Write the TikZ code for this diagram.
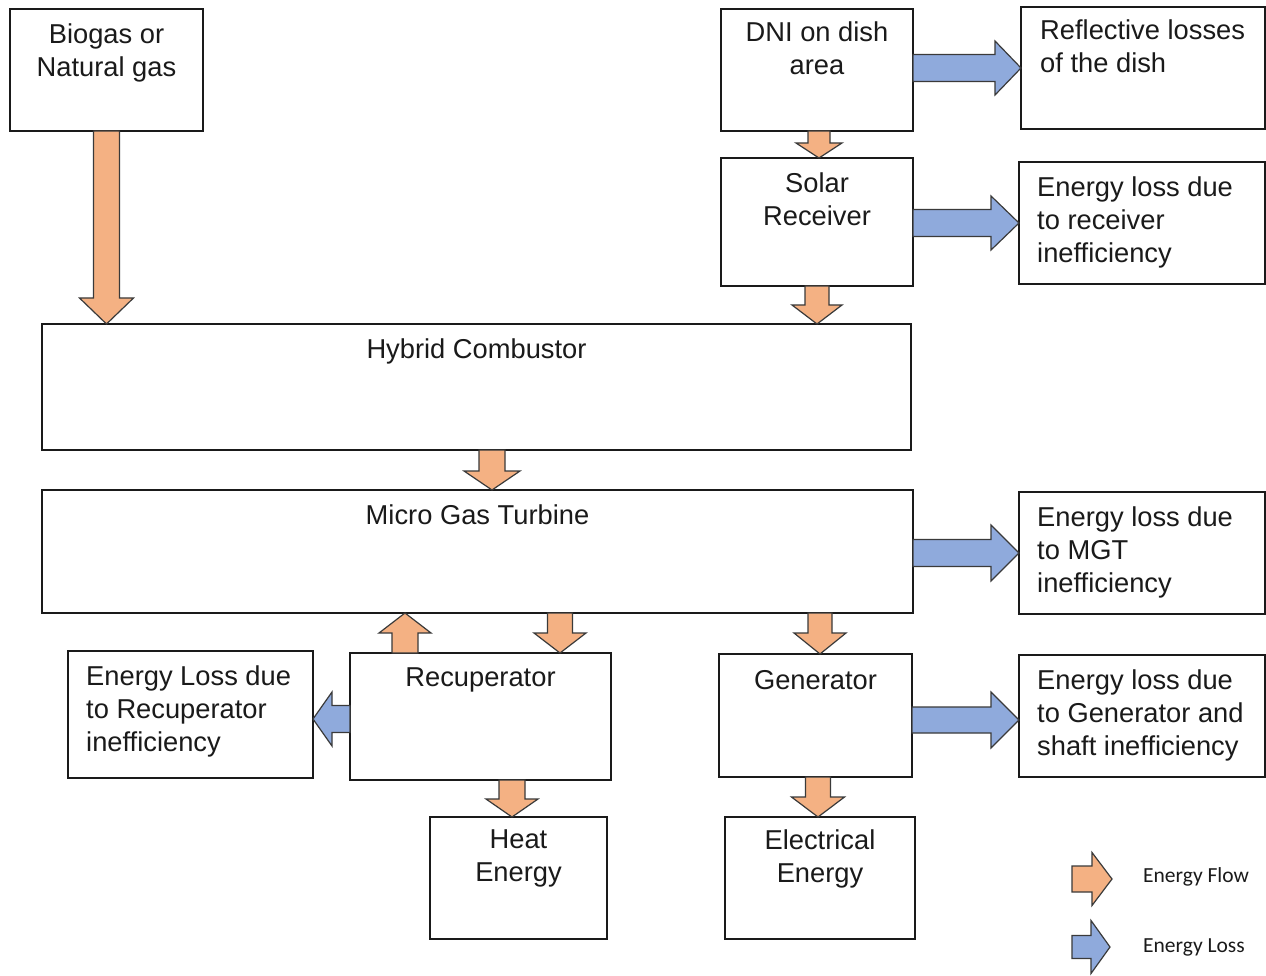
\documentclass[tikz,border=0pt]{standalone}
\usepackage{fontspec}
\setmainfont{Liberation Sans}
\newfontfamily\legfont{Carlito}
\usetikzlibrary{calc}
\definecolor{orf}{HTML}{F4B183}
\definecolor{blf}{HTML}{8FAADC}
\definecolor{arline}{HTML}{3A3A3A}
\definecolor{txt}{HTML}{1A1A1A}
\newcommand\boxnode[5]{%
  \pgfmathsetmacro\bw{#4-#2}\pgfmathsetmacro\bh{#5-#3}%
  \node[box, minimum width=\bw pt, minimum height=\bh pt] (#1) at ({(#2+#4)/2},{(#3+#5)/2}) {};}
% style, start, end, shaft half width, head half width, head length
\newcommand\blockarrow[6]{%
  \coordinate (ba-s) at (#2);
  \coordinate (ba-e) at (#3);
  \coordinate (ba-h) at ($(ba-e)!#6!(ba-s)$);
  \draw[#1] ($(ba-s)!#4!90:(ba-e)$) -- ($(ba-h)!#4!90:(ba-e)$) -- ($(ba-h)!#5!90:(ba-e)$)
    -- (ba-e) -- ($(ba-h)!#5!-90:(ba-e)$) -- ($(ba-h)!#4!-90:(ba-e)$)
    -- ($(ba-s)!#4!-90:(ba-e)$) -- cycle;}
\begin{document}
\begin{tikzpicture}[x=1pt,y=-1pt,
  box/.style={draw=txt, line width=1.5pt, fill=white, inner sep=0pt, outer sep=0pt},
  ctext/.style={inner sep=0pt, align=center, text=txt, font=\fontsize{27.3pt}{33pt}\selectfont, anchor=north},
  ltext/.style={inner sep=0pt, align=left, text=txt, font=\fontsize{27.3pt}{33pt}\selectfont, anchor=north west},
  flow/.style={fill=orf, draw=arline, line width=1.2pt, line join=miter},
  loss/.style={fill=blf, draw=arline, line width=1.2pt, line join=miter},
  legtext/.style={inner sep=0pt, anchor=base west, text=txt, font=\legfont\fontsize{21.5pt}{26pt}\selectfont}]
\useasboundingbox (0,0) rectangle (1266,976);
\fill[white] (0,0) rectangle (1266,976);

% boxes
\boxnode{bio}{10}{9}{203}{131}
\boxnode{dni}{721}{9}{913}{131}
\boxnode{refl}{1021}{7}{1265}{129}
\boxnode{sol}{721}{158}{913}{286}
\boxnode{rl}{1019}{162}{1265}{284}
\boxnode{hyb}{42}{324}{911}{450}
\boxnode{mgt}{42}{490}{913}{613}
\boxnode{ml}{1019}{492}{1265}{614}
\boxnode{rec}{350}{653}{611}{780}
\boxnode{rcl}{68}{651}{313}{778}
\boxnode{gen}{719}{654}{912}{777}
\boxnode{gl}{1019}{655}{1265}{777}
\boxnode{heat}{430}{817}{607}{939}
\boxnode{elec}{725}{817}{915}{939}

% texts
\node[ctext] (bio-t) at ([yshift=-15pt]bio.north) {Biogas or\\Natural gas};
\node[ctext] (dni-t) at ([yshift=-13pt]dni.north) {DNI on dish\\area};
\node[ltext] (refl-t) at ([shift={(19pt,-13pt)}]refl.north west) {Reflective losses\\of the dish};
\node[ctext] (sol-t) at ([yshift=-15pt]sol.north) {Solar\\Receiver};
\node[ltext] (rl-t) at ([shift={(18pt,-15pt)}]rl.north west) {Energy loss due\\to receiver\\inefficiency};
\node[ctext] (hyb-t) at ([yshift=-15pt]hyb.north) {Hybrid Combustor};
\node[ctext] (mgt-t) at ([yshift=-15pt]mgt.north) {Micro Gas Turbine};
\node[ltext] (ml-t) at ([shift={(18pt,-15pt)}]ml.north west) {Energy loss due\\to MGT\\inefficiency};
\node[ctext] (rec-t) at ([yshift=-15pt]rec.north) {Recuperator};
\node[ltext] (rcl-t) at ([shift={(18pt,-15pt)}]rcl.north west) {Energy Loss due\\to Recuperator\\inefficiency};
\node[ctext] (gen-t) at ([yshift=-16pt]gen.north) {Generator};
\node[ltext] (gl-t) at ([shift={(18pt,-15pt)}]gl.north west) {Energy loss due\\to Generator and\\shaft inefficiency};
\node[ctext] (heat-t) at ([yshift=-13pt]heat.north) {Heat\\Energy};
\node[ctext] (elec-t) at ([yshift=-13pt]elec.north) {Electrical\\Energy};

% helper coordinates
\coordinate (ds) at ([xshift=2pt]dni.south);
\coordinate (hm) at ([xshift=15.5pt]hyb.south);
\coordinate (ru) at ([xshift=-75.5pt]rec.north);
\coordinate (rd) at ([xshift=79.5pt]rec.north);
\coordinate (mg) at ([xshift=4.5pt]gen.north);
\coordinate (rh) at ([xshift=-6.5pt]heat.north);
\coordinate (ge) at ([xshift=2.5pt]gen.south);
\coordinate (rw) at ([yshift=-2.5pt]rec.west);
\coordinate (gw) at ([yshift=-4pt]gl.west);

% energy flow arrows
\blockarrow{flow}{bio.south}{bio.south |- hyb.north}{13pt}{27pt}{26pt}
\blockarrow{flow}{ds}{ds |- sol.north}{11pt}{23pt}{15pt}
\blockarrow{flow}{sol.south}{sol.south |- hyb.north}{12pt}{25pt}{19pt}
\blockarrow{flow}{hm}{hm |- mgt.north}{13pt}{28pt}{19pt}
\blockarrow{flow}{ru}{ru |- mgt.south}{13pt}{26pt}{20pt}
\blockarrow{flow}{rd |- mgt.south}{rd}{12.5pt}{26pt}{20pt}
\blockarrow{flow}{mg |- mgt.south}{mg}{12pt}{26pt}{21pt}
\blockarrow{flow}{rh |- rec.south}{rh}{13pt}{26pt}{18pt}
\blockarrow{flow}{ge}{ge |- elec.north}{12.5pt}{26.5pt}{20pt}

% energy loss arrows
\blockarrow{loss}{refl.west -| dni.east}{refl.west}{13.5pt}{27pt}{26pt}
\blockarrow{loss}{rl.west -| sol.east}{rl.west}{13.5pt}{27pt}{28pt}
\blockarrow{loss}{ml.west -| mgt.east}{ml.west}{13.5pt}{28pt}{28pt}
\blockarrow{loss}{gw -| gen.east}{gw}{13pt}{28pt}{28pt}
\blockarrow{loss}{rw}{rw -| rcl.east}{13.5pt}{27pt}{19pt}

% legend
\coordinate (lf1) at (1072,879);
\coordinate (lf2) at (1112,879);
\coordinate (ll1) at (1072,947);
\coordinate (ll2) at (1110,947);
\blockarrow{flow}{lf1}{lf2}{13pt}{26.5pt}{20pt}
\blockarrow{loss}{ll1}{ll2}{11.5pt}{26.5pt}{19pt}
\node[legtext] (lf-t) at (1143,882) {Energy Flow};
\node[legtext] (ll-t) at (1143,952) {Energy Loss};
\end{tikzpicture}
\end{document}
